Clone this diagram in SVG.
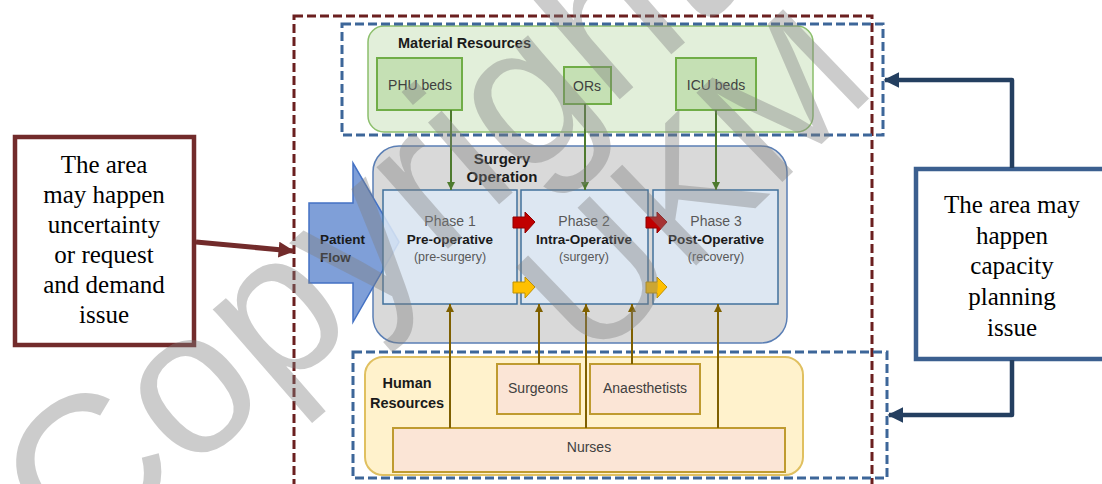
<svg xmlns="http://www.w3.org/2000/svg" width="1102" height="484" viewBox="0 0 1102 484">
<defs>
<style>
.lbl{font-family:"Liberation Sans",Arial,sans-serif;font-size:14px;fill:#404040;text-anchor:middle}
.bold{font-family:"Liberation Sans",Arial,sans-serif;font-weight:bold;fill:#1a1a1a}
.ph{font-family:"Liberation Sans",Arial,sans-serif;fill:#595959;text-anchor:middle}
.serif{font-family:"Liberation Serif","Times New Roman",serif;font-size:25px;fill:#000;text-anchor:middle}
.green{stroke:#4e7a2e;stroke-width:2;fill:none}
.brown{stroke:#7f6000;stroke-width:2;fill:none}
.phase{fill:#dde9f6;fill-opacity:0.85;stroke:#41719c;stroke-width:1.5}
.mat{fill:#c5e0b4;stroke:#70ad47;stroke-width:2}
.hum{fill:#fbe5d6;stroke:#bf9b30;stroke-width:2}
.wm{font-family:"Liberation Sans",Arial,sans-serif;fill:#808080;fill-opacity:0.4}
</style>
<marker id="ag" viewBox="0 0 10 10" refX="10" refY="5" markerWidth="8" markerHeight="8" markerUnits="userSpaceOnUse" orient="auto"><path d="M0,0 L10,5 L0,10 z" fill="#4e7a2e"/></marker>
<marker id="ab" viewBox="0 0 10 10" refX="10" refY="5" markerWidth="8" markerHeight="8" markerUnits="userSpaceOnUse" orient="auto"><path d="M0,0 L10,5 L0,10 z" fill="#7f6000"/></marker>
<marker id="am" viewBox="0 0 10 10" refX="9" refY="5" markerWidth="16" markerHeight="16" markerUnits="userSpaceOnUse" orient="auto"><path d="M0,0 L10,5 L0,10 z" fill="#722b2b"/></marker>
<marker id="an" viewBox="0 0 10 10" refX="9" refY="5" markerWidth="16" markerHeight="16" markerUnits="userSpaceOnUse" orient="auto"><path d="M0,0 L10,5 L0,10 z" fill="#243f60"/></marker>
</defs>
<rect width="1102" height="484" fill="#ffffff"/>

<g id="material-resources">
<rect x="368" y="26" width="445" height="106" rx="16" fill="#e2efda" stroke="#8cbf6c" stroke-width="1.5"/>
<text class="bold" x="398" y="48" font-size="14.5">Material Resources</text>
</g>
<g id="phu-beds"><rect class="mat" x="377" y="58" width="85" height="52"/><text class="lbl" x="420" y="90">PHU beds</text></g>
<g id="ors"><rect class="mat" x="564" y="67" width="47" height="37"/><text class="lbl" x="587" y="91">ORs</text></g>
<g id="icu-beds"><rect class="mat" x="676" y="58" width="80" height="52"/><text class="lbl" x="716" y="90">ICU beds</text></g>

<g id="surgery-operation">
<rect x="373" y="146" width="414" height="197" rx="26" fill="#d9d9d9" stroke="#5b7fb5" stroke-width="1.5"/>
<text class="bold" x="502" y="164" font-size="15" text-anchor="middle">Surgery</text>
<text class="bold" x="502" y="182" font-size="15" text-anchor="middle">Operation</text>
</g>

<g id="human-resources">
<rect x="365" y="357" width="438" height="118" rx="18" fill="#fff2cc" stroke="#e0c060" stroke-width="2"/>
<text class="bold" x="407" y="388" font-size="14.5" text-anchor="middle">Human</text>
<text class="bold" x="407" y="408" font-size="14.5" text-anchor="middle">Resources</text>
</g>
<g id="surgeons"><rect class="hum" x="497" y="364" width="83" height="50"/><text class="lbl" x="538" y="393">Surgeons</text></g>
<g id="anaesthetists"><rect class="hum" x="590" y="364" width="110" height="50"/><text class="lbl" x="645" y="393">Anaesthetists</text></g>
<g id="nurses"><rect class="hum" x="393" y="428" width="392" height="44"/><text class="lbl" x="589" y="452">Nurses</text></g>

<g id="patient-flow">
<path d="M309,203 H353 V163 L399,242 L353,322 V283 H309 Z" fill="#7f9fd8" stroke="#4472c4" stroke-width="1.5"/>
<text class="bold" x="320" y="244" font-size="13.5">Patient</text>
<text class="bold" x="320" y="262" font-size="13.5">Flow</text>
</g>

<g id="phase-1">
<rect class="phase" x="383" y="190" width="134" height="114"/>
<text class="ph" x="450" y="226" font-size="14">Phase  1</text>
<text class="bold" x="450" y="244" font-size="13.5" text-anchor="middle">Pre-operative</text>
<text class="ph" x="450" y="261" font-size="12.5">(pre-surgery)</text>
</g>
<g id="phase-2">
<rect class="phase" x="521" y="190" width="127" height="114"/>
<text class="ph" x="584" y="226" font-size="14">Phase 2</text>
<text class="bold" x="584" y="244" font-size="13.5" text-anchor="middle">Intra-Operative</text>
<text class="ph" x="584" y="261" font-size="12.5">(surgery)</text>
</g>
<g id="phase-3">
<rect class="phase" x="653" y="190" width="125" height="114"/>
<text class="ph" x="716" y="226" font-size="14">Phase  3</text>
<text class="bold" x="716" y="244" font-size="13.5" text-anchor="middle">Post-Operative</text>
<text class="ph" x="716" y="261" font-size="12.5">(recovery)</text>
</g>

<g id="flow-arrows">
<path d="M513,217 H525 V212 L535,222 L525,233 V228 H513 Z" fill="#c00000" stroke="#900000" stroke-width="1"/>
<path d="M646,217 H657 V212 L667,222 L657,233 V228 H646 Z" fill="#c00000" stroke="#900000" stroke-width="1"/>
<path d="M513,282 H525 V277 L535,287 L525,298 V293 H513 Z" fill="#ffc000" stroke="#c09000" stroke-width="1"/>
<path d="M646,282 H657 V277 L667,287 L657,298 V293 H646 Z" fill="#ffc000" stroke="#c09000" stroke-width="1"/>
</g>

<g id="uncertainty-box">
<rect x="15" y="137" width="179" height="208" fill="#ffffff" stroke="#722b2b" stroke-width="4.5"/>
<text class="serif" x="104" y="173">The area</text>
<text class="serif" x="104" y="203">may happen</text>
<text class="serif" x="104" y="233">uncertainty</text>
<text class="serif" x="104" y="263">or request</text>
<text class="serif" x="104" y="293">and demand</text>
<text class="serif" x="104" y="323">issue</text>
</g>
<g id="capacity-box">
<rect x="916" y="169" width="200" height="190" fill="#ffffff" stroke="#3b5f8f" stroke-width="4.5"/>
<text class="serif" x="1012" y="213">The area may</text>
<text class="serif" x="1012" y="244">happen</text>
<text class="serif" x="1012" y="274">capacity</text>
<text class="serif" x="1012" y="305">planning</text>
<text class="serif" x="1012" y="336">issue</text>
</g>

<g id="regions">
<rect x="294" y="16" width="578" height="490" fill="none" stroke="#6b1f1f" stroke-width="3" stroke-dasharray="9,4"/>
<rect x="342" y="24" width="541" height="111" fill="none" stroke="#3d6699" stroke-width="3" stroke-dasharray="9,4"/>
<rect x="353" y="352" width="534" height="126" fill="none" stroke="#3d6699" stroke-width="3" stroke-dasharray="9,4"/>
</g>

<g id="connectors">
<line class="green" x1="451" y1="110" x2="451" y2="190" marker-end="url(#ag)"/>
<line class="green" x1="585" y1="104" x2="585" y2="190" marker-end="url(#ag)"/>
<line class="green" x1="716" y1="110" x2="716" y2="190" marker-end="url(#ag)"/>
<line class="brown" x1="450" y1="428" x2="450" y2="304" marker-end="url(#ab)"/>
<line class="brown" x1="586" y1="428" x2="586" y2="304" marker-end="url(#ab)"/>
<line class="brown" x1="718" y1="428" x2="718" y2="304" marker-end="url(#ab)"/>
<line class="brown" x1="539" y1="364" x2="539" y2="304" marker-end="url(#ab)"/>
<line class="brown" x1="632" y1="364" x2="632" y2="304" marker-end="url(#ab)"/>
<line x1="196" y1="242" x2="293" y2="251" stroke="#722b2b" stroke-width="5" marker-end="url(#am)"/>
<path d="M1012,168 V80 H885" fill="none" stroke="#243f60" stroke-width="4.5" stroke-linejoin="round" marker-end="url(#an)"/>
<path d="M1012,360 V415 H889" fill="none" stroke="#243f60" stroke-width="4.5" stroke-linejoin="round" marker-end="url(#an)"/>
</g>

<g id="watermark">
<text class="wm" x="0" y="0" transform="translate(76,572) rotate(-41)" font-size="205">Copyright</text>
<text class="wm" x="0" y="0" transform="translate(592,366) rotate(-44)" font-size="180">UKM</text>
</g>
</svg>
